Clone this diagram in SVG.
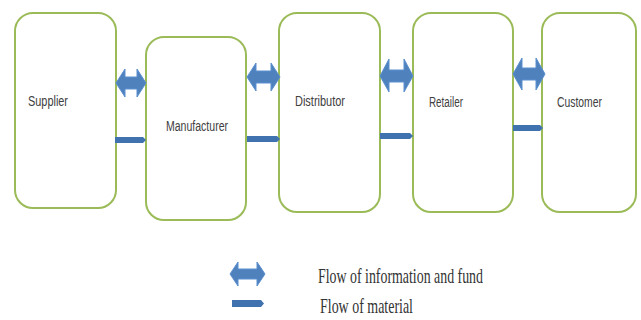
<svg xmlns="http://www.w3.org/2000/svg" width="641" height="320" viewBox="0 0 641 320">
<defs>
<style>
.box{fill:#ffffff;stroke:#9bbb59;stroke-width:2}
.lbl{font-family:"Liberation Sans Narrow","Liberation Sans",Arial,sans-serif;font-size:14px;fill:#404040}
.dbl{fill:#4f81bd;stroke:#5b8fcf;stroke-width:1}
.mat{fill:#3f72af}
.leg{font-family:"Liberation Serif","Times New Roman",serif;font-size:21px;fill:#333333}
</style>
</defs>
<rect width="641" height="320" fill="#ffffff"/>
<g id="supplier"><rect class="box" x="15" y="13" width="101" height="195" rx="18"/><text class="lbl" x="28" y="106" textLength="40" lengthAdjust="spacingAndGlyphs">Supplier</text></g>
<g id="manufacturer"><rect class="box" x="146" y="37" width="100" height="183" rx="18"/><text class="lbl" x="166" y="131" textLength="62" lengthAdjust="spacingAndGlyphs">Manufacturer</text></g>
<g id="distributor"><rect class="box" x="279" y="13" width="101" height="199" rx="18"/><text class="lbl" x="295" y="106" textLength="50" lengthAdjust="spacingAndGlyphs">Distributor</text></g>
<g id="retailer"><rect class="box" x="413" y="13" width="100" height="199" rx="18"/><text class="lbl" x="429" y="107" textLength="34" lengthAdjust="spacingAndGlyphs">Retailer</text></g>
<g id="customer"><rect class="box" x="542" y="13" width="94" height="199" rx="18"/><text class="lbl" x="557" y="107" textLength="45" lengthAdjust="spacingAndGlyphs">Customer</text></g>
<g id="connectors">
<path class="dbl" d="M116,83 L125,69 L125,77 L137,77 L137,69 L146,83 L137,97 L137,89 L125,89 L125,97 Z"/>
<path class="dbl" d="M247,77 L256,63 L256,71 L271,71 L271,63 L280,77 L271,91 L271,83 L256,83 L256,91 Z"/>
<path class="dbl" d="M380,76 L389,59 L389,70 L404,70 L404,59 L413,76 L404,92 L404,82 L389,82 L389,92 Z"/>
<path class="dbl" d="M513,74 L522,58 L522,68 L536,68 L536,58 L545,74 L536,90 L536,80 L522,80 L522,90 Z"/>
<path class="mat" d="M115,137 L143,137 L146,140 L143,143 L115,143 Z"/>
<path class="mat" d="M247,136 L277,136 L280,139 L277,142 L247,142 Z"/>
<path class="mat" d="M380,133 L410,133 L413,136 L410,139 L380,139 Z"/>
<path class="mat" d="M513,125 L540,125 L543,128 L540,131 L513,131 Z"/>
</g>
<g id="legend">
<path class="dbl" d="M230,274 L238,262 L238,269 L257,269 L257,262 L265,274 L257,286 L257,279 L238,279 L238,286 Z"/>
<path class="mat" d="M232,300 L261,300 L264,303.5 L261,307 L232,307 Z"/>
<text class="leg" x="318" y="283" textLength="165" lengthAdjust="spacingAndGlyphs">Flow of information and fund</text>
<text class="leg" x="320" y="313" textLength="93" lengthAdjust="spacingAndGlyphs">Flow of material</text>
</g>
</svg>
